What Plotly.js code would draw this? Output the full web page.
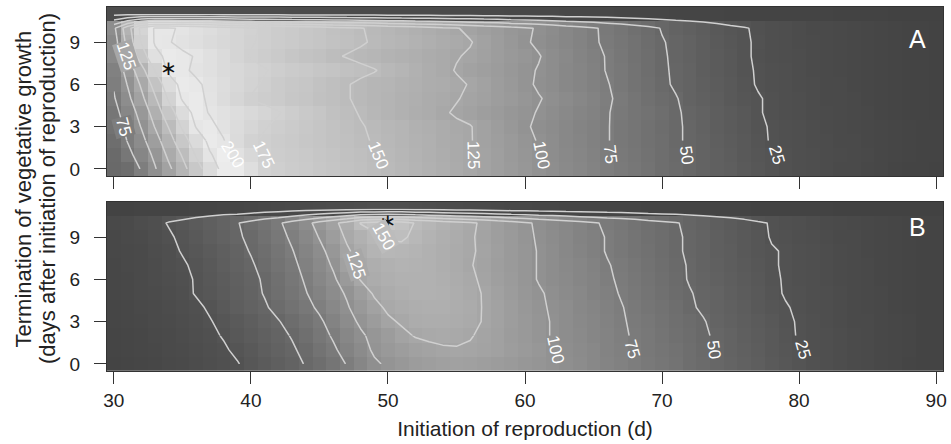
<!DOCTYPE html>
<html><head><meta charset="utf-8">
<script src="https://cdn.plot.ly/plotly-3.0.1.min.js"></script>
<style>html,body{margin:0;padding:0;background:#fff;} #chart{width:951px;height:444px;}</style>
</head><body><div id="chart"></div>
<script>
// Initiation of reproduction (d): grid columns
const initiationDays = [30,31,32,33,34,35,36,37,38,39,40,41,42,43,44,45,46,47,48,49,50,51,52,53,54,55,56,57,58,59,60,61,62,63,64,65,66,67,68,69,70,71,72,73,74,75,76,77,78,79,80,81,82,83,84,85,86,87,88,89,90];
// Termination of vegetative growth (days after initiation): grid rows
const terminationDays = [0,1,2,3,4,5,6,7,8,9,10,11];

// Panel A values, one row per termination day (columns = initiationDays)
const fitnessA = [
 [52,56,77,98,120,142,165,187,207,205, 191,177,173,170,167,164,161,158,155,152, 148,145,141,137,134,130,126,121,116,111, 106,101,96,91,87,82,77,72,68,63, 58,54,49,45,41,38,34,30,26,23, 21,19,17,15,14,12,11,9,8,7, 6],
 [53,68,86,105,130,152,177,198,209,195, 184,174,171,168,166,163,160,157,154,151, 147,144,140,136,133,129,126,121,116,110, 105,101,95,90,86,81,76,71,67,62, 58,53,49,45,41,37,33,29,26,23, 21,19,17,16,14,13,11,10,9,8, 7],
 [57,76,93,115,140,165,187,205,201,188, 177,173,170,167,164,161,158,155,152,149, 146,142,139,136,132,129,126,120,115,110, 104,99,94,89,85,80,76,70,66,61, 57,52,48,44,40,36,32,28,24,22, 20,18,17,15,14,12,11,10,9,8, 7],
 [62,81,101,126,151,178,201,204,196,189, 182,176,172,168,165,161,158,154,151,148, 145,142,138,135,132,128,126,119,114,108, 102,97,93,88,84,80,76,70,66,61, 56,52,48,43,39,35,31,27,24,22, 20,18,16,15,13,12,11,10,9,8, 7],
 [67,87,108,136,164,189,206,199,195,190, 185,180,176,171,166,162,157,153,149,145, 141,138,134,131,127,123,119,115,111,107, 103,99,94,90,85,81,76,71,66,62, 57,52,47,43,39,35,31,26,23,21, 19,17,16,14,13,12,10,9,8,7, 6],
 [73,94,119,147,178,202,205,197,189,182, 174,171,168,164,161,157,154,151,147,144, 141,138,135,132,129,126,122,118,114,110, 105,101,97,92,87,82,77,72,66,60, 55,51,45,41,37,33,29,26,23,21, 19,17,15,14,13,11,10,9,8,7, 6],
 [77,101,128,159,189,206,203,196,190,184, 178,173,169,165,162,158,154,151,147,144, 142,139,136,133,131,128,124,120,114,109, 103,98,94,89,85,80,76,70,64,59, 53,48,44,40,36,32,28,24,22,20, 18,17,15,14,12,11,10,9,8,7, 6],
 [80,109,141,176,204,203,197,193,188,184, 179,176,172,169,166,163,160,157,154,151, 146,142,137,133,129,124,120,116,112,108, 103,99,94,89,85,80,74,70,64,58, 52,48,44,39,35,31,27,24,22,20, 18,16,15,13,12,11,10,9,8,7, 6],
 [90,128,162,194,205,203,199,193,187,180, 174,171,167,163,159,156,152,149,146,143, 140,137,135,132,129,126,123,118,114,109, 105,101,95,90,84,79,74,68,62,57, 52,47,43,39,35,31,27,23,21,19, 18,16,15,13,12,11,10,9,8,7, 6],
 [88,133,176,202,201,196,192,188,184,180, 176,173,170,167,164,161,158,155,152,148, 145,142,139,135,132,129,126,120,114,108, 102,97,92,87,82,77,72,67,62,56, 51,47,43,38,34,30,26,24,21,19, 17,16,14,13,12,11,10,9,8,7, 6],
 [95,140,181,202,202,198,194,190,185,181, 177,173,170,167,164,161,157,154,151,147, 143,140,136,133,129,126,121,116,112,107, 103,98,93,87,82,77,71,66,60,55, 49,45,41,37,33,29,26,23,21,19, 17,15,14,13,12,11,10,9,8,7, 6],
 [18,18,18,18,18,18,18,18,18,17, 17,17,17,16,16,16,16,15,15,15, 15,14,14,14,14,13,13,13,13,12, 12,12,12,11,11,11,11,10,10,10, 10,9,9,9,9,8,8,8,8,7, 7,7,7,6,6,6,6,5,5,5, 5]
];

// Panel B values
const fitnessB = [
 [8,9,10,11,13,15,17,19,22,24, 30,35,40,45,51,58,66,76,86,97, 103,108,112,115,117,118,117,115,113,110, 107,104,101,97,93,89,84,80,76,71, 67,63,58,54,49,46,42,38,34,30, 26,23,20,18,16,14,12,11,9,8, 7],
 [9,10,11,12,14,16,18,20,23,28, 33,38,43,48,54,63,72,82,92,103, 109,114,118,121,123,124,123,121,118,114, 110,106,101,96,92,88,83,79,74,70, 66,62,58,53,49,45,41,37,33,29, 26,22,20,18,16,14,12,11,10,8, 7],
 [9,10,11,13,15,17,19,22,26,31, 36,41,46,51,59,68,77,87,97,105, 113,121,126,128,129,128,126,122,118,113, 109,104,99,95,91,86,82,78,73,69, 65,60,56,52,48,44,40,36,32,28, 24,22,20,18,16,14,12,11,10,8, 7],
 [10,11,12,14,16,18,21,24,29,34, 39,44,49,56,64,72,82,93,103,112, 122,127,131,133,133,132,129,124,119,114, 109,104,99,94,90,86,81,77,72,68, 64,59,55,51,46,42,39,35,31,27, 24,22,19,17,15,14,12,11,10,8, 7],
 [10,11,13,15,17,19,22,27,32,38, 43,48,55,62,70,78,88,98,109,120, 128,132,134,135,135,133,130,124,119,114, 108,103,98,94,89,85,80,76,71,66, 62,57,52,48,44,41,37,33,29,26, 23,21,19,17,15,13,12,10,9,8, 7],
 [11,12,14,16,18,21,26,30,35,40, 45,51,59,66,74,83,93,102,115,127, 132,135,137,137,136,133,129,124,118,113, 107,102,97,92,88,83,79,74,69,65, 60,55,51,47,44,40,36,32,28,24, 23,21,19,17,15,13,12,10,9,8, 7],
 [11,12,14,17,19,22,26,31,36,41, 46,52,60,68,77,87,97,110,126,131, 135,137,138,137,135,132,128,122,116,111, 105,99,95,91,86,82,77,73,68,63, 59,54,49,46,42,38,35,31,27,24, 22,20,18,16,14,13,11,10,9,8, 7],
 [11,13,15,17,20,23,28,33,38,43, 48,55,63,71,80,91,102,118,128,134, 138,140,139,137,134,130,126,121,115,110, 105,99,95,90,86,81,76,72,67,62, 58,53,49,45,41,37,34,30,26,24, 22,20,18,16,14,13,11,10,9,8, 7],
 [12,13,15,18,21,26,30,35,40,45, 51,58,66,74,84,95,107,122,133,141, 145,144,141,137,134,130,127,122,116,110, 105,99,94,89,84,79,74,70,65,61, 56,52,48,44,40,37,33,29,26,24, 22,20,18,16,14,12,11,10,9,8, 7],
 [12,14,16,19,23,28,33,38,43,48, 53,61,69,78,89,101,114,128,138,146, 152,153,146,140,135,131,127,121,115,110, 104,98,93,88,83,79,74,69,65,60, 56,52,48,44,40,36,33,29,24,23, 21,19,17,15,14,12,11,10,9,8, 7],
 [13,15,18,21,26,30,35,40,45,49, 56,64,72,83,94,107,120,133,151,157, 162,158,149,144,138,133,128,122,115,109, 103,97,92,87,82,77,72,68,64,59, 55,51,47,43,39,35,31,27,24,22, 20,18,16,15,13,12,11,10,9,8, 7],
 [6,6,7,7,8,8,9,9,10,10, 11,12,13,14,15,16,17,18,19,20, 20,20,19,18,17,16,15,14,13,12, 12,11,11,10,10,10,9,9,9,8, 8,8,8,7,7,7,7,6,6,6, 6,6,6,5,5,5,5,5,5,5, 5]
];

// Optimum (asterisk) positions
const optimumAX = [34], optimumAY = [7];
const optimumBX = [50], optimumBY = [10];
const xTickVals = [30,40,50,60,70,80,90];
const yTickVals = [0,3,6,9];
const panelNames = ['A','B'];
// Which contour levels carry a label, on which grid row, on which side of the ridge
const labelLevelsA = [200,175,150,125,100,75,50,25,125,75];
const labelRowsA   = [1,1,1,1,1,1,1,1,8,3];
const labelSidesA  = ['desc','desc','desc','desc','desc','desc','desc','desc','asc','asc'];
const labelLevelsB = [100,75,50,25,125,150];
const labelRowsB   = [1,1,1,1,7,9];
const labelSidesB  = ['desc','desc','desc','desc','asc','asc'];
// Lines below the bottom labels are left out: the lowest rows are only drawn up to this column
const lowRows = 3;               // rows 0..2
const lowLastColA = 8;           // up to day 38
const lowLastColB = 27;          // up to day 57

const ZMIN = -20, ZMAX = 215, G0 = 45, G1 = 242;
const gray = [[0,`rgb(${G0},${G0},${G0})`],[1,`rgb(${G1},${G1},${G1})`]];
const sans = '"Liberation Sans", Arial, sans-serif';

const W = 951, H = 444, M = {l:107, r:8, t:7, b:73};
const domA = [0.5357,1], domB = [0,0.465];
const plotW = W - M.l - M.r, plotH = H - M.t - M.b;

function heat(z, xa, ya) {
  return {type:'heatmap', x:initiationDays, y:terminationDays, z:z, xaxis:xa, yaxis:ya,
    colorscale:gray, zmin:ZMIN, zmax:ZMAX, showscale:false, zsmooth:false, hoverinfo:'skip'};
}
function cont(x, y, z, xa, ya) {
  return {type:'contour', x:x, y:y, z:z, xaxis:xa, yaxis:ya,
    autocontour:false, contours:{start:25,end:200,size:25,coloring:'none',showlabels:false},
    line:{color:'rgb(208,208,208)',width:1.5,smoothing:0}, showscale:false, hoverinfo:'skip'};
}
function contours(z, lastCol, xa, ya) {
  const upper = cont(initiationDays, terminationDays.slice(lowRows - 1), z.slice(lowRows - 1), xa, ya);
  const lower = cont(initiationDays.slice(0, lastCol + 1), terminationDays.slice(0, lowRows),
    z.slice(0, lowRows).map(r => r.slice(0, lastCol + 1)), xa, ya);
  return [upper, lower];
}
function star(x, y, xa, ya) {
  return {type:'scatter', mode:'text', x:x, y:y, text:['\u2217'], xaxis:xa, yaxis:ya,
    textposition:'middle center', textfont:{size:20,color:'#111',family:'"DejaVu Sans", sans-serif'},
    hoverinfo:'skip', showlegend:false};
}

// where a level crosses a grid row (linear interpolation between cells)
function crossing(row, c, side) {
  let found = null;
  for (let i = 0; i < row.length - 1; i++) {
    const a = row[i], b = row[i+1];
    if (side === 'asc' && a < c && b >= c) { return initiationDays[i] + (c - a) / (b - a); }
    if (side === 'desc' && a >= c && b < c) { found = initiationDays[i] + (a - c) / (a - b); }
  }
  return found;
}
function levelGray(c) {
  const g = Math.round(G0 + (G1 - G0) * (c - ZMIN) / (ZMAX - ZMIN));
  return `rgb(${g},${g},${g})`;
}
function labels(z, levels, rows, sides, xa, ya, dom) {
  const pxX = plotW / 61, pxY = plotH * (dom[1] - dom[0]) / 12;
  const out = [];
  levels.forEach((c, k) => {
    const r = rows[k], s = sides[k];
    const x = crossing(z[r], c, s);
    if (x === null) return;
    const rl = Math.max(r - 1, 0), ru = Math.min(r + 1, z.length - 1);
    const xl = crossing(z[rl], c, s), xu = crossing(z[ru], c, s);
    let ang = 60;
    if (xl !== null && xu !== null) {
      ang = Math.atan2((ru - rl) * pxY, (xl - xu) * pxX) * 180 / Math.PI;
      if (ang > 90) ang -= 180;
    }
    const onLine = r >= lowRows - 1;   // label sits on a drawn line: mask it
    out.push({text:String(c), x:x, y:r, xref:xa, yref:ya, showarrow:false, textangle:ang,
      xanchor:'center', yanchor:'middle', bgcolor:onLine ? levelGray(c) : 'rgba(0,0,0,0)', borderpad:0,
      font:{size:17, color:'#ffffff', family:sans}});
  });
  return out;
}

const data = [].concat(
  [heat(fitnessA,'x','y')], contours(fitnessA, lowLastColA, 'x','y'),
  [heat(fitnessB,'x2','y2')], contours(fitnessB, lowLastColB, 'x2','y2'),
  [star(optimumAX, optimumAY, 'x','y'), star(optimumBX, optimumBY, 'x2','y2')]
);

const axisCommon = {showline:true, mirror:true, linecolor:'#333', linewidth:1, zeroline:false, showgrid:false,
  ticks:'outside', ticklen:12, tickcolor:'#333', tickwidth:1,
  tickfont:{family:sans, size:19, color:'#222'}};

const layout = {
  width:W, height:H, margin:M,
  paper_bgcolor:'#fff', plot_bgcolor:'#fff', showlegend:false,
  xaxis: Object.assign({}, axisCommon, {domain:[0,1], anchor:'y', range:[29.5,90.5], tickvals:xTickVals, showticklabels:false}),
  yaxis: Object.assign({}, axisCommon, {domain:domA, anchor:'x', range:[-0.5,11.5], tickvals:yTickVals, ticklabelstandoff:10}),
  xaxis2: Object.assign({}, axisCommon, {domain:[0,1], anchor:'y2', range:[29.5,90.5], tickvals:xTickVals, ticklabelstandoff:0,
    title:{text:'Initiation of reproduction (d)', font:{family:sans, size:21, color:'#222'}, standoff:11}}),
  yaxis2: Object.assign({}, axisCommon, {domain:domB, anchor:'x2', range:[-0.5,11.5], tickvals:yTickVals, ticklabelstandoff:10}),
  annotations: [].concat(
    labels(fitnessA, labelLevelsA, labelRowsA, labelSidesA, 'x', 'y', domA),
    labels(fitnessB, labelLevelsB, labelRowsB, labelSidesB, 'x2', 'y2', domB),
    [
    {text:panelNames[0], xref:'x domain', yref:'y domain', x:0.97, y:0.81, showarrow:false, xanchor:'center', yanchor:'middle', font:{size:25, color:'#fff', family:sans}},
    {text:panelNames[1], xref:'x2 domain', yref:'y2 domain', x:0.97, y:0.85, showarrow:false, xanchor:'center', yanchor:'middle', font:{size:25, color:'#fff', family:sans}},
    {text:'Termination of vegetative growth', xref:'paper', yref:'paper', x:(22.5 - M.l) / plotW, y:0.5,
     textangle:-90, showarrow:false, xanchor:'center', yanchor:'middle', font:{size:22, color:'#222', family:sans}},
    {text:'(days after initiation of reproduction)', xref:'paper', yref:'paper', x:(47 - M.l) / plotW, y:0.5,
     textangle:-90, showarrow:false, xanchor:'center', yanchor:'middle', font:{size:22, color:'#222', family:sans}}
    ])
};

Plotly.newPlot('chart', data, layout, {displayModeBar:false, staticPlot:true});
</script></body></html>
